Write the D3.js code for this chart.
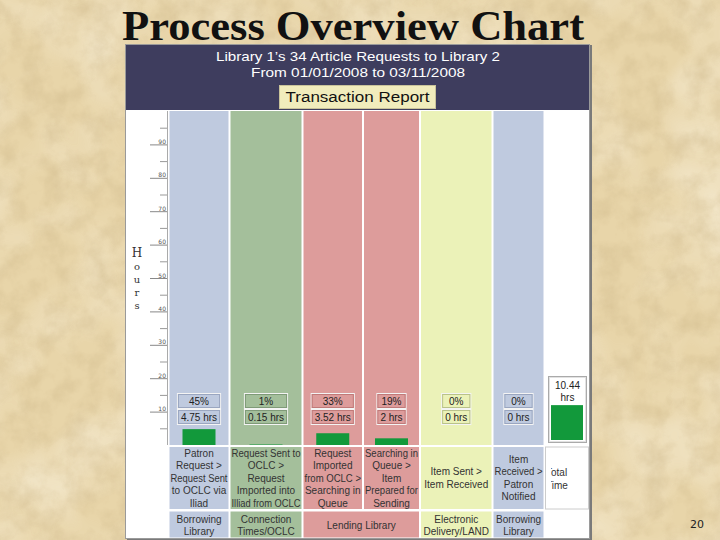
<!DOCTYPE html>
<html><head><meta charset="utf-8">
<script src="https://cdn.jsdelivr.net/npm/d3@7"></script>
<style>html,body{margin:0;padding:0;background:#e9d6ab;}svg{display:block;}</style>
</head><body>
<script>
// ---- data ----
const title = "Process Overview Chart";
const headerLines = ["Library 1\u2019s 34 Article Requests to Library 2", "From 01/01/2008 to 03/11/2008"];
const buttonLabel = "Transaction Report";
const stepLabels = [
  ["Patron", "Request >", "Request Sent", "to OCLC via", "Iliad"],
  ["Request Sent to", "OCLC >", "Request", "Imported into", "Illiad from OCLC"],
  ["Request", "Imported", "from OCLC >", "Searching in", "Queue"],
  ["Searching in", "Queue >", "Item", "Prepared for", "Sending"],
  ["Item Sent >", "Item Received"],
  ["Item", "Received >", "Patron", "Notified"]
];
const percents = [45, 1, 33, 19, 0, 0];
const hours = [4.75, 0.15, 3.52, 2, 0, 0];
const totalHours = 10.44;
const totalLabel = ["Total", "Time"];
const groupLabels = [["Borrowing", "Library"], ["Connection", "Times/OCLC"], ["Lending Library"], ["Electronic", "Delivery/LAND"], ["Borrowing", "Library"]];
const groupSpans = [1, 1, 2, 1, 1];
const majorTicks = [10, 20, 30, 40, 50, 60, 70, 80, 90];
const minorTicks = [5, 15, 25, 35, 45, 55, 65, 75, 85, 95];
const axisTitle = ["H", "o", "u", "r", "s"];
const pageNumber = "20";

// ---- layout / style ----
const W = 720, H = 540;
const colColors = ["#bfcadf", "#a4bf9b", "#dd9c9b", "#dd9c9b", "#ebf2b8", "#bfcadf"];
const boxBorder = ["#9aa6c0", "#7f9a78", "#c07a79", "#c07a79", "#b9c28a", "#9aa6c0"];
const colEdges = [169.5, 230.5, 303.5, 364, 421, 493.5, 545.5, 588.5]; // 6 step columns + total column
const barGreen = "#12993b";

const svg = d3.select("body").append("svg").attr("width", W).attr("height", H)
  .style("font-family", "'Liberation Sans', Arial, sans-serif");

// parchment background
const defs = svg.append("defs");
const f = defs.append("filter").attr("id", "parch").attr("x", 0).attr("y", 0).attr("width", "100%").attr("height", "100%");
f.append("feTurbulence").attr("type", "fractalNoise").attr("baseFrequency", "0.045").attr("numOctaves", 5).attr("seed", 7);
f.append("feColorMatrix").attr("type", "matrix")
  .attr("values", "0 0 0 0 0.6  0 0 0 0 0.46  0 0 0 0 0.24  0 0 0 -1.6 1.0");
const f2 = defs.append("filter").attr("id", "parch2").attr("x", 0).attr("y", 0).attr("width", "100%").attr("height", "100%");
f2.append("feTurbulence").attr("type", "fractalNoise").attr("baseFrequency", "0.012").attr("numOctaves", 3).attr("seed", 2);
f2.append("feColorMatrix").attr("type", "matrix")
  .attr("values", "0 0 0 0 1  0 0 0 0 0.97  0 0 0 0 0.88  0 0 0 1.4 -0.55");
svg.append("rect").attr("width", W).attr("height", H).attr("fill", "#e8d5a9");
svg.append("rect").attr("width", W).attr("height", H).attr("filter", "url(#parch2)").attr("opacity", 0.6);
svg.append("rect").attr("width", W).attr("height", H).attr("filter", "url(#parch)").attr("opacity", 0.5);

// title
svg.append("text").attr("x", 353).attr("y", 40).attr("text-anchor", "middle")
  .attr("font-family", "'Liberation Serif', 'Times New Roman', serif").attr("font-weight", "bold")
  .attr("font-size", 43).attr("textLength", 462).attr("lengthAdjust", "spacingAndGlyphs")
  .attr("fill", "#111").text(title);

// panel
svg.append("rect").attr("x", 127).attr("y", 45).attr("width", 465).attr("height", 495).attr("fill", "#7a7a7a");
svg.append("rect").attr("x", 125.5).attr("y", 44.5).attr("width", 464).attr("height", 494).attr("fill", "#fff").attr("stroke", "#9a9a9a");
svg.append("rect").attr("x", 126).attr("y", 45).attr("width", 463).attr("height", 65).attr("fill", "#3e3d5e");
headerLines.forEach((t, i) => {
  svg.append("text").attr("x", 358).attr("y", 61 + i * 16).attr("text-anchor", "middle")
    .attr("font-size", 13).attr("fill", "#fff").attr("textLength", i === 0 ? 284 : 214)
    .attr("lengthAdjust", "spacingAndGlyphs").text(t);
});
svg.append("rect").attr("x", 279.5).attr("y", 85.5).attr("width", 156).attr("height", 23).attr("fill", "#f1ecbc").attr("stroke", "#c9c39a");
svg.append("text").attr("x", 357.5).attr("y", 102).attr("text-anchor", "middle").attr("font-size", 14)
  .attr("fill", "#111").attr("textLength", 144).attr("lengthAdjust", "spacingAndGlyphs").text(buttonLabel);

// scales
const y = d3.scaleLinear().domain([0, 100]).range([445, 111]);
const colTop = 111, colBottom = 445;

// axis column separator
svg.append("line").attr("x1", 167.5).attr("x2", 167.5).attr("y1", colTop).attr("y2", colBottom).attr("stroke", "#aaa");

// minor ticks
const minorAxis = d3.axisLeft(y).tickValues(minorTicks).tickSize(7).tickFormat("");
svg.append("g").attr("transform", "translate(167,0)").call(minorAxis)
  .call(g => { g.select(".domain").remove(); g.selectAll("line").attr("stroke", "#999"); });
// major ticks
const majorAxis = d3.axisLeft(y).tickValues(majorTicks).tickSize(17).tickFormat(d3.format("d"));
svg.append("g").attr("transform", "translate(167,0)").call(majorAxis)
  .call(g => {
    g.select(".domain").remove();
    g.selectAll("line").attr("stroke", "#888");
    g.selectAll("text").attr("x", -1).attr("dy", "-0.15em").attr("text-anchor", "end")
      .attr("font-size", 6).attr("fill", "#555").attr("font-family", "'DejaVu Sans', sans-serif");
  });
axisTitle.forEach((c, i) => {
  svg.append("text").attr("x", 137).attr("y", 257 + i * 13).attr("text-anchor", "middle")
    .attr("font-size", i === 0 ? 12 : 10).attr("fill", "#333").attr("font-family", "'DejaVu Serif', serif").text(c);
});

// step columns
const cols = svg.append("g");
percents.forEach((p, i) => {
  const x0 = colEdges[i], x1 = colEdges[i + 1] - 2;
  const cx = (x0 + x1) / 2;
  cols.append("rect").attr("x", x0).attr("y", colTop).attr("width", x1 - x0).attr("height", colBottom - colTop)
    .attr("fill", colColors[i]);
  // bar
  const h = y(0) - y(hours[i]);
  cols.append("rect").attr("x", cx - 16.5).attr("y", y(hours[i])).attr("width", 33).attr("height", h).attr("fill", barGreen);
  // label boxes
  const g = cols.append("g");
  const t1 = g.append("text").attr("x", cx).attr("y", 405).attr("text-anchor", "middle").attr("font-size", 10).attr("fill", "#222").text(p + "%");
  const t2 = g.append("text").attr("x", cx).attr("y", 421).attr("text-anchor", "middle").attr("font-size", 10).attr("fill", "#222").text(hours[i] + " hrs");
  const bw = Math.max(t1.node().getComputedTextLength(), t2.node().getComputedTextLength()) + 7;
  [393.5, 409.5].forEach(by => {
    g.insert("rect", "text").attr("x", cx - bw / 2).attr("y", by).attr("width", bw).attr("height", 15)
      .attr("fill", colColors[i]).attr("stroke", "#f4f4f4").attr("stroke-width", 1);
    g.insert("rect", "text").attr("x", cx - bw / 2 + 1).attr("y", by + 1).attr("width", bw - 2).attr("height", 13)
      .attr("fill", "none").attr("stroke", boxBorder[i]).attr("stroke-width", 1);
  });
  // step label cell
  cols.append("rect").attr("x", x0).attr("y", 447).attr("width", x1 - x0).attr("height", 62).attr("fill", colColors[i]);
  const lines = stepLabels[i];
  const startY = 478 - (lines.length - 1) * 6.25 + 3.5;
  lines.forEach((ln, k) => {
    const t = cols.append("text").attr("x", cx).attr("y", startY + k * 12.5).attr("text-anchor", "middle")
      .attr("font-size", 10).attr("fill", "#333").text(ln);
    if (t.node().getComputedTextLength() > x1 - x0 - 2) t.attr("textLength", x1 - x0 - 2).attr("lengthAdjust", "spacingAndGlyphs");
  });
});

// total column
const tx0 = colEdges[6], tx1 = colEdges[7];
svg.append("rect").attr("x", 548.5).attr("y", 376.5).attr("width", 38).attr("height", 66).attr("fill", "#fff").attr("stroke", "#aaa");
svg.append("rect").attr("x", 549.5).attr("y", 377.5).attr("width", 36).attr("height", 64).attr("fill", "none").attr("stroke", "#e2e2e2");
svg.append("text").attr("x", 567.5).attr("y", 389).attr("text-anchor", "middle").attr("font-size", 10).attr("fill", "#222").text(totalHours);
svg.append("text").attr("x", 567.5).attr("y", 401).attr("text-anchor", "middle").attr("font-size", 10).attr("fill", "#222").text("hrs");
const th = y(0) - y(totalHours);
svg.append("rect").attr("x", 551).attr("y", 440 - th).attr("width", 32).attr("height", th).attr("fill", barGreen);
defs.append("clipPath").attr("id", "totclip").append("rect").attr("x", 551).attr("y", 447).attr("width", 37).attr("height", 62);
svg.append("rect").attr("x", tx0).attr("y", 447).attr("width", tx1 - tx0).attr("height", 62).attr("fill", "#fff").attr("stroke", "#ccc");
const tg = svg.append("g").attr("clip-path", "url(#totclip)");
totalLabel.forEach((t, k) => {
  tg.append("text").attr("x", 546).attr("y", 476 + k * 12.5).attr("font-size", 10).attr("fill", "#333").text(t);
});

// group row
let ci = 0;
groupLabels.forEach((lines, gi) => {
  const x0 = colEdges[ci], x1 = colEdges[ci + groupSpans[gi]] - 2;
  const cx = (x0 + x1) / 2;
  svg.append("rect").attr("x", x0).attr("y", 511.5).attr("width", x1 - x0).attr("height", 26).attr("fill", colColors[ci]);
  const sy = 525 - (lines.length - 1) * 6 + 3.5;
  lines.forEach((ln, k) => {
    const t = svg.append("text").attr("x", cx).attr("y", sy + k * 12).attr("text-anchor", "middle")
      .attr("font-size", 10).attr("fill", "#333").text(ln);
    if (t.node().getComputedTextLength() > x1 - x0 - 2) t.attr("textLength", x1 - x0 - 2).attr("lengthAdjust", "spacingAndGlyphs");
  });
  ci += groupSpans[gi];
});

// page number
svg.append("text").attr("x", 697).attr("y", 528).attr("text-anchor", "middle").attr("font-size", 11)
  .attr("fill", "#222").attr("font-family", "'DejaVu Sans', sans-serif").text(pageNumber);
</script>
</body></html>
